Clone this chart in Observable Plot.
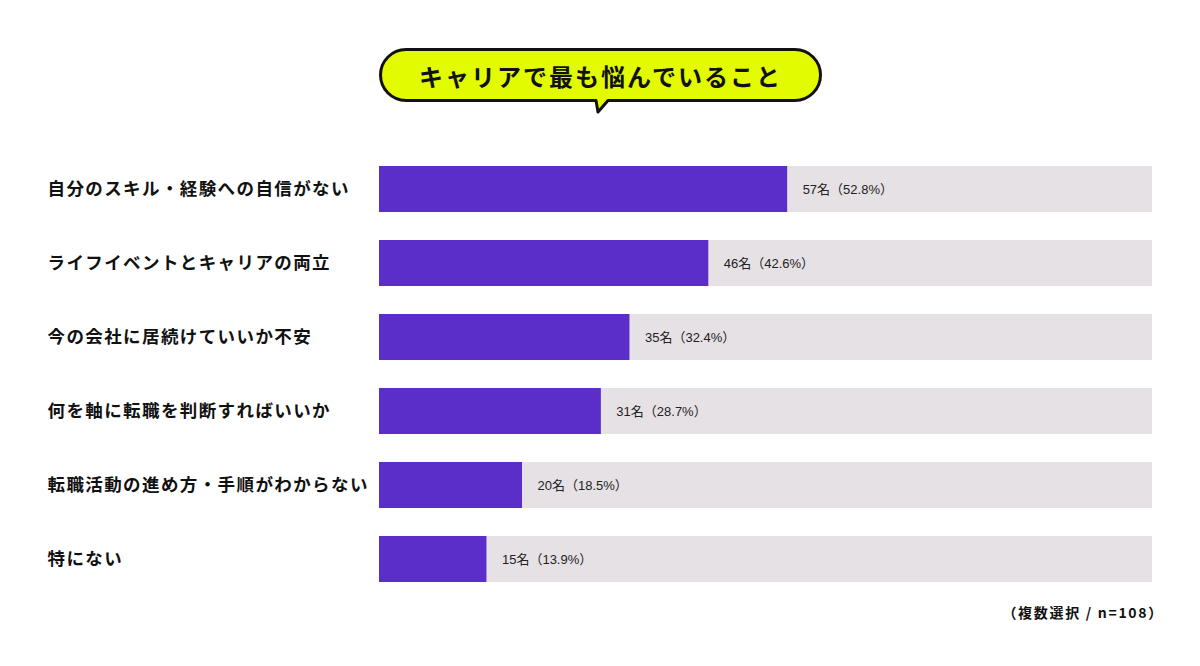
<!DOCTYPE html>
<html><head><meta charset="utf-8">
<script src="https://cdn.jsdelivr.net/npm/d3@7"></script>
<script src="https://cdn.jsdelivr.net/npm/@observablehq/plot@0.6"></script>
<style>
html,body{margin:0;padding:0;background:#fff;}
body{width:1200px;height:666px;position:relative;overflow:hidden;font-family:"Noto Sans CJK JP","Noto Sans",sans-serif;}
#head{position:relative;height:130px;}
#bubble{position:absolute;left:0;top:0;}
#title{position:absolute;left:379px;top:48px;width:443px;height:54px;display:flex;align-items:center;justify-content:center;font-size:24px;font-weight:700;letter-spacing:2px;color:#111;}
#chart{position:absolute;left:0;top:130px;}
#caption{position:absolute;right:36px;top:602px;font-size:14px;font-weight:700;letter-spacing:1.7px;color:#111;}
</style></head>
<body>
<div id="head">
<svg id="bubble" width="1200" height="130">
<path d="M406,49.5 H795 A25.5,25.5 0 0 1 795,100.5 H608 L598,112 L596,100.5 H406 A25.5,25.5 0 0 1 406,49.5 Z" fill="#e3fb00" stroke="#111" stroke-width="3" stroke-linejoin="round"/>
</svg>
<div id="title">キャリアで最も悩んでいること</div>
</div>
<div id="chart"></div>
<div id="caption">（複数選択 / n=108）</div>
<script>
const categories = [
  "自分のスキル・経験への自信がない",
  "ライフイベントとキャリアの両立",
  "今の会社に居続けていいか不安",
  "何を軸に転職を判断すればいいか",
  "転職活動の進め方・手順がわからない",
  "特にない"
];
const counts = [57, 46, 35, 31, 20, 15];
const percents = [52.8, 42.6, 32.4, 28.7, 18.5, 13.9];

const data = categories.map((c, i) => ({label: c, count: counts[i], pct: percents[i]}));

const chart = Plot.plot({
  width: 1200,
  height: 480,
  marginLeft: 379,
  marginRight: 48,
  marginTop: 36,
  marginBottom: 28,
  x: {domain: [0, 100], axis: null},
  y: {domain: categories, axis: null, paddingInner: 0.378, paddingOuter: 0, align: 0, round: false},
  style: {fontFamily: '"Noto Sans CJK JP","Noto Sans",sans-serif', background: "transparent"},
  marks: [
    Plot.barX(data, {y: "label", x1: 0, x2: 100, fill: "#e5e1e5"}),
    Plot.barX(data, {y: "label", x1: 0, x2: "pct", fill: "#5b2dc9"}),
    Plot.text(data, {y: "label", x: "pct", text: d => `${d.count}名（${d.pct.toFixed(1)}%）`, textAnchor: "start", dx: 15, fontSize: 13, fill: "#222", fontWeight: 400, fontFamily: '"Liberation Sans","Noto Sans CJK JP",sans-serif'}),
    Plot.text(data, {y: "label", frameAnchor: "left", text: "label", textAnchor: "start", dx: -332, fontSize: 17.5, fontWeight: 700, fill: "#111"})
  ]
});
document.getElementById("chart").appendChild(chart);
d3.select(chart).selectAll("text").filter(function() { return categories.includes(this.textContent); })
  .style("letter-spacing", "1.4px");
</script>
</body></html>
